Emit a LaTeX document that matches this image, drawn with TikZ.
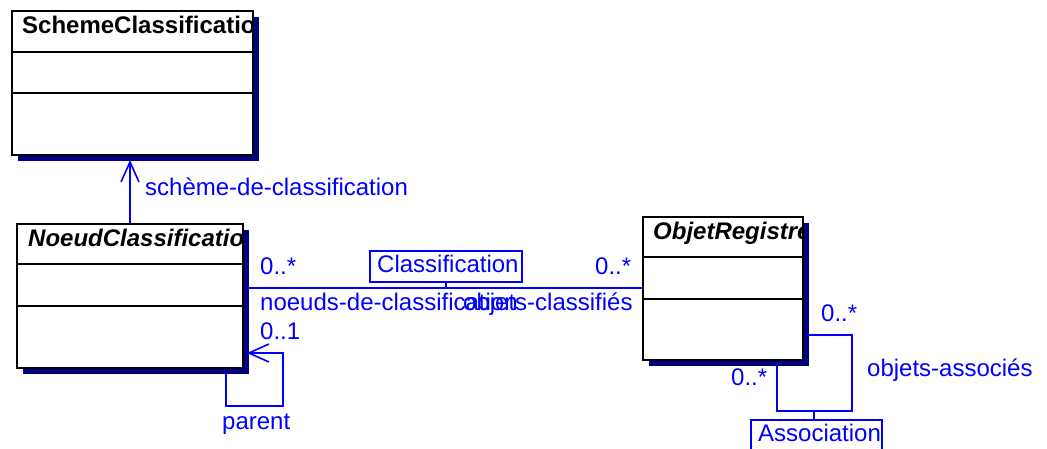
\documentclass[tikz,border=0pt]{standalone}
\usepackage{fontspec}
\setmainfont{Liberation Sans}
\usetikzlibrary{arrows.meta,shadows}
\definecolor{umlblue}{RGB}{0,0,255}
\definecolor{umlnavy}{RGB}{0,0,128}
\tikzset{
  umlbox/.style={draw=black, line width=1.6pt, fill=white, inner sep=0pt,
    anchor=north west,
    drop shadow={shadow xshift=6pt, shadow yshift=-6pt, fill=umlnavy, opacity=1}},
  divider/.style={draw=black, line width=1.6pt},
  title/.style={inner sep=0pt, anchor=base west, font=\fontsize{24}{28}\selectfont\bfseries},
  ititle/.style={title, font=\fontsize{24}{28}\selectfont\bfseries\itshape},
  lbl/.style={inner sep=0pt, anchor=base west, text=umlblue, font=\fontsize{24}{28}\selectfont},
  assoc/.style={draw=umlblue, line width=1.6pt},
  openhead/.style={-{Straight Barb[length=20pt, width=18pt, line width=1.6pt]}},
  assocbox/.style={draw=umlblue, line width=1.6pt, inner sep=0pt, anchor=north west}
}
\begin{document}
\begin{tikzpicture}[x=1pt, y=-1pt]
\useasboundingbox[fill=white] (0,0) rectangle (1047,448);

% class boxes
\node[umlbox, minimum width=241pt, minimum height=144pt] (S) at (11,10) {};
\node[umlbox, minimum width=226pt, minimum height=144pt] (N) at (16,223) {};
\node[umlbox, minimum width=160pt, minimum height=143pt] (O) at (642,216) {};

% compartments
\draw[divider] (S.west |- 0,52) -- (S.east |- 0,52);
\draw[divider] (S.west |- 0,93) -- (S.east |- 0,93);
\draw[divider] (N.west |- 0,264) -- (N.east |- 0,264);
\draw[divider] (N.west |- 0,306) -- (N.east |- 0,306);
\draw[divider] (O.west |- 0,257) -- (O.east |- 0,257);
\draw[divider] (O.west |- 0,299) -- (O.east |- 0,299);

% class names, cut at the box edge
\begin{scope}
  \clip (S.north west) rectangle (S.south east);
  \node[title] (St) at (22,33) {SchemeClassification};
\end{scope}
\begin{scope}
  \clip (N.north west) rectangle (N.south east);
  \node[ititle] (Nt) at (28,246) {NoeudClassification};
\end{scope}
\begin{scope}
  \clip (O.north west) rectangle (O.south east);
  \node[ititle] (Ot) at (653,239) {ObjetRegistre};
\end{scope}

% NoeudClassification -> SchemeClassification
\coordinate (sch) at (130,160);
\draw[assoc, openhead] (N.north -| sch) -- (sch);
\node[lbl] (lsch) at (145,195) {schème-de-classification};

% Classification association
\coordinate (ca) at (248,288);
\draw[assoc] (ca) -- (O.west |- ca);
\node[assocbox, minimum width=152pt, minimum height=31pt] (cls) at (369,250) {};
\node[lbl] (clst) at (377,272) {Classification};
\draw[assoc] (cls.south) -- (cls.south |- ca);
\node[lbl] (m1) at (260,274) {0..*};
\node[lbl] (r1) at (260,310) {noeuds-de-classification};
\node[lbl] (r2) at (463,310) {objets-classifiés};
\node[lbl] (m2) at (595,274) {0..*};

% parent self association
\coordinate (pa) at (226,373);
\coordinate (pb) at (283,406);
\coordinate (pt) at (247,353);
\draw[assoc, openhead] (pa) -- (pa |- pb) -- (pb) -- (pb |- pt) -- (pt);
\node[lbl] (m3) at (260,339) {0..1};
\node[lbl] (lpar) at (222,429) {parent};

% objets-associés self association
\coordinate (oa) at (807,335);
\coordinate (ob) at (852,411);
\coordinate (oc) at (777,364);
\draw[assoc] (oa) -- (ob |- oa) -- (ob) -- (oc |- ob) -- (oc);
\node[assocbox, minimum width=131pt, minimum height=34pt] (asc) at (750,419) {};
\node[lbl] (asct) at (758,441) {Association};
\draw[assoc] (asc.north -| 814,0) -- (814,411);
\node[lbl] (m4) at (821,321) {0..*};
\node[lbl] (lass) at (867,376) {objets-associés};
\node[lbl] (m5) at (731,385) {0..*};
\end{tikzpicture}
\end{document}
